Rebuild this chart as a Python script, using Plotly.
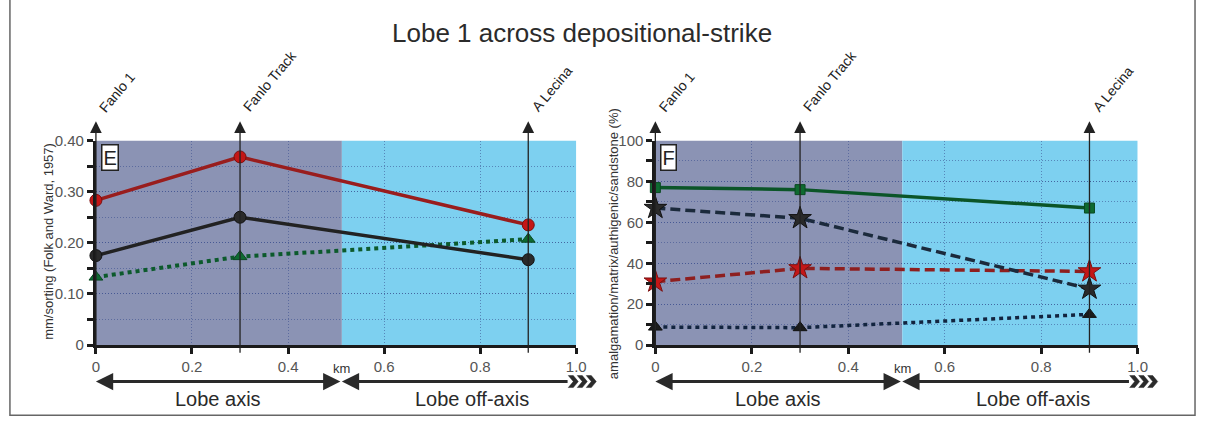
import plotly.graph_objects as go

# ---------------- data ----------------
stations = ["Fanlo 1", "Fanlo Track", "A Lecina"]
station_km = [0.0, 0.3, 0.9]

# Panel E (mm / sorting)
grain_size_mm = [0.283, 0.368, 0.235]
sorting = [0.175, 0.250, 0.167]
green_dotted_E = [0.133, 0.173, 0.207]

# Panel F (%)
amalgamation = [77, 76, 67]
matrix_pct = [67, 62, 27.5]
authigenic = [31, 37.5, 36]
sandstone = [8.8, 8.5, 15]

x_tickvals = [0, 0.2, 0.4, 0.6, 0.8, 1.0]
x_ticktext = ["0", "0.2", "0.4", "0.6", "0.8", "1.0"]
yE_tickvals = [0, 0.1, 0.2, 0.3, 0.4]
yE_ticktext = ["0", "0.10", "0.20", "0.30", "0.40"]
yF_tickvals = [0, 20, 40, 60, 80, 100]
yF_ticktext = ["0", "20", "40", "60", "80", "100"]

axis_split_km = 0.512  # boundary lobe axis / off-axis

# ---------------- layout helpers ----------------
W, H = 1207, 427
def px_x(p):
    return p / W
def px_y(p):
    return 1 - p / H

FONT = "Liberation Sans, Arial, sans-serif"
DARK_BG = "#8b93b4"
LIGHT_BG = "#7dd0f0"
GRID = "rgba(55,75,140,0.55)"

fig = go.Figure()

def add_line(xa, ya, y, name, color, dash, width, msym, msize, mcolor, mline):
    fig.add_trace(go.Scatter(
        x=station_km, y=y, name=name, xaxis=xa, yaxis=ya, mode="lines+markers",
        line=dict(color=color, width=width, dash=dash),
        marker=dict(symbol=msym, size=msize, color=mcolor, line=dict(color=mline, width=1)),
        showlegend=False, cliponaxis=False))

# Panel E
add_line("x", "y", green_dotted_E, "green", "#0c5a2c", "4px,4px", 4, "triangle-up", 12, "#0e6a30", "#0a4a22")
add_line("x", "y", sorting, "sorting", "#222222", "solid", 3.5, "circle", 12, "#2a2a2a", "#111111")
add_line("x", "y", grain_size_mm, "mm", "#991d1d", "solid", 3.5, "circle", 12, "#c41616", "#7a1010")

# Panel F
add_line("x2", "y2", sandstone, "sandstone", "#12243f", "4px,4px", 3.5, "triangle-up", 12, "#1b1b1b", "#111111")
add_line("x2", "y2", authigenic, "authigenic", "#8e1f1f", "10px,5px", 3.5, "star", 17, "#c41616", "#7a1010")
add_line("x2", "y2", matrix_pct, "matrix", "#1b2a3c", "10px,5px", 3.5, "star", 17, "#2a2a2a", "#111111")
add_line("x2", "y2", amalgamation, "amalgamation", "#0b5528", "solid", 3.5, "square", 10, "#0e6a30", "#0a4a22")

xdomE = [px_x(93), px_x(579)]
xdomF = [px_x(659), px_x(1147)]
ydom = [px_y(350), px_y(137)]

TICKFONT = dict(family=FONT, size=15, color="#555555")

def xaxis_cfg(domain, anchor):
    return dict(domain=domain, anchor=anchor, range=[0, 1], tickvals=x_tickvals, ticktext=x_ticktext,
                showline=True, linecolor="#1a1a1a", linewidth=3, ticks="outside", ticklen=6,
                tickwidth=3, tickcolor="#1a1a1a", showgrid=True, gridcolor=GRID, griddash="1px,2px",
                gridwidth=1, zeroline=False, tickfont=TICKFONT, fixedrange=True)

def yaxis_cfg(anchor, rng, tv, tt, minor_dt):
    return dict(domain=ydom, anchor=anchor, range=rng, tickvals=tv, ticktext=tt,
                showline=True, linecolor="#1a1a1a", linewidth=3, ticks="outside", ticklen=6,
                tickwidth=3, tickcolor="#1a1a1a", showgrid=True, gridcolor=GRID, griddash="1px,2px",
                gridwidth=1, zeroline=False, tickfont=TICKFONT,
                minor=dict(dtick=minor_dt, ticks="outside", ticklen=6, tickwidth=3, tickcolor="#1a1a1a",
                           showgrid=True, gridcolor=GRID, griddash="1px,2px", gridwidth=1),
                fixedrange=True)

shapes = []
annotations = []
for xr, yr, ymax, dom in [("x", "y", 0.4, xdomE), ("x2", "y2", 100, xdomF)]:
    shapes.append(dict(type="rect", xref=xr, yref=yr, x0=0, x1=axis_split_km, y0=0, y1=ymax,
                       fillcolor=DARK_BG, line=dict(width=0), layer="below"))
    shapes.append(dict(type="rect", xref=xr, yref=yr, x0=axis_split_km, x1=1, y0=0, y1=ymax,
                       fillcolor=LIGHT_BG, line=dict(width=0), layer="below"))

    # station lines with arrowheads and rotated labels
    for name, xs in zip(stations, station_km):
        annotations.append(dict(x=xs, xref=xr, y=px_y(117), yref="paper", text="",
                                showarrow=True, arrowhead=2, arrowsize=1.8, arrowwidth=1.3,
                                arrowcolor="#222222", ax=0, ay=350 - 117, standoff=0))
        annotations.append(dict(x=xs, xref=xr, y=px_y(113), yref="paper", text=name,
                                showarrow=False, textangle=-50, xanchor="left", yanchor="bottom",
                                xshift=-3, font=dict(family=FONT, size=14, color="#222222")))

    # bottom double arrows
    annotations.append(dict(x=0, xref=xr, y=px_y(388), yref="paper", text="",
                            ax=axis_split_km, axref=xr, ay=0, showarrow=True,
                            arrowhead=2, startarrowhead=2, arrowside="end+start",
                            arrowsize=1.15, startarrowsize=1.15, arrowwidth=3,
                            arrowcolor="#2a2a2a", standoff=0, startstandoff=0))
    annotations.append(dict(x=axis_split_km, xref=xr, y=px_y(388), yref="paper", text="",
                            ax=0.985, axref=xr, ay=0, showarrow=True,
                            arrowhead=2, arrowsize=1.15, arrowwidth=3,
                            arrowcolor="#2a2a2a", standoff=0))
    # chevrons at the open end (pixel-sized path anchored at the axis end)
    chev = ""
    for k in range(3):
        o = -8 + 9 * k
        chev += f"M{o},6 L{o+5},6 L{o+10},0 L{o+5},-6 L{o},-6 L{o+5},0 Z "
    shapes.append(dict(type="path", xref="paper", yref="paper", xsizemode="pixel", ysizemode="pixel",
                       xanchor=dom[1], yanchor=px_y(388), path=chev,
                       fillcolor="#2a2a2a", line=dict(color="#2a2a2a", width=0.5), layer="above"))
    annotations.append(dict(x=axis_split_km, xref=xr, y=px_y(374), yref="paper", text="km",
                            showarrow=False, xanchor="center", yanchor="middle",
                            font=dict(family=FONT, size=13, color="#333333")))
    annotations.append(dict(x=0.255, xref=xr, y=px_y(406), yref="paper", text="Lobe axis",
                            showarrow=False, xanchor="center", yanchor="middle",
                            font=dict(family=FONT, size=20, color="#2a2a2a")))
    annotations.append(dict(x=0.783, xref=xr, y=px_y(406), yref="paper", text="Lobe off-axis",
                            showarrow=False, xanchor="center", yanchor="middle",
                            font=dict(family=FONT, size=20, color="#2a2a2a")))

# panel letters
for xr, letter in [("x", "E"), ("x2", "F")]:
    annotations.append(dict(x=0, xref=xr, y=px_y(141), yref="paper", text=letter,
                            showarrow=False, xanchor="left", yanchor="top", xshift=5,
                            font=dict(family=FONT, size=20, color="#222222"),
                            bgcolor="white", bordercolor="#222222", borderwidth=1.5, borderpad=1))

# axis titles
annotations.append(dict(x=px_x(45), y=px_y(242), xref="paper", yref="paper",
                        text="mm/sorting (Folk and Ward, 1957)", textangle=-90, showarrow=False,
                        xanchor="center", yanchor="middle",
                        font=dict(family=FONT, size=13, color="#333333")))
annotations.append(dict(x=px_x(616), y=px_y(244), xref="paper", yref="paper",
                        text="amalgamation/matrix/authigenic/sandstone (%)", textangle=-90,
                        xanchor="center", yanchor="middle",
                        showarrow=False, font=dict(family=FONT, size=13, color="#333333")))

# title
annotations.append(dict(x=px_x(585), y=px_y(25), xref="paper", yref="paper",
                        text="Lobe 1 across depositional-strike", showarrow=False,
                        xanchor="center", yanchor="middle",
                        font=dict(family=FONT, size=26, color="#2b2b2b")))

# outer frame (open at top)
shapes.append(dict(type="path", xref="paper", yref="paper",
                   path=f"M {px_x(6)},1.05 L {px_x(6)},{px_y(423)} L {px_x(1205)},{px_y(423)} L {px_x(1205)},1.05",
                   line=dict(color="#666666", width=1.5), layer="above"))

fig.update_layout(
    width=W, height=H, margin=dict(l=0, r=0, t=0, b=0),
    paper_bgcolor="white", plot_bgcolor="rgba(0,0,0,0)",
    xaxis=xaxis_cfg(xdomE, "y"), yaxis=yaxis_cfg("x", [0, 0.4], yE_tickvals, yE_ticktext, 0.05),
    xaxis2=xaxis_cfg(xdomF, "y2"), yaxis2=yaxis_cfg("x2", [0, 100], yF_tickvals, yF_ticktext, 10),
    shapes=shapes, annotations=annotations, showlegend=False,
)

fig.write_html("out.html")
